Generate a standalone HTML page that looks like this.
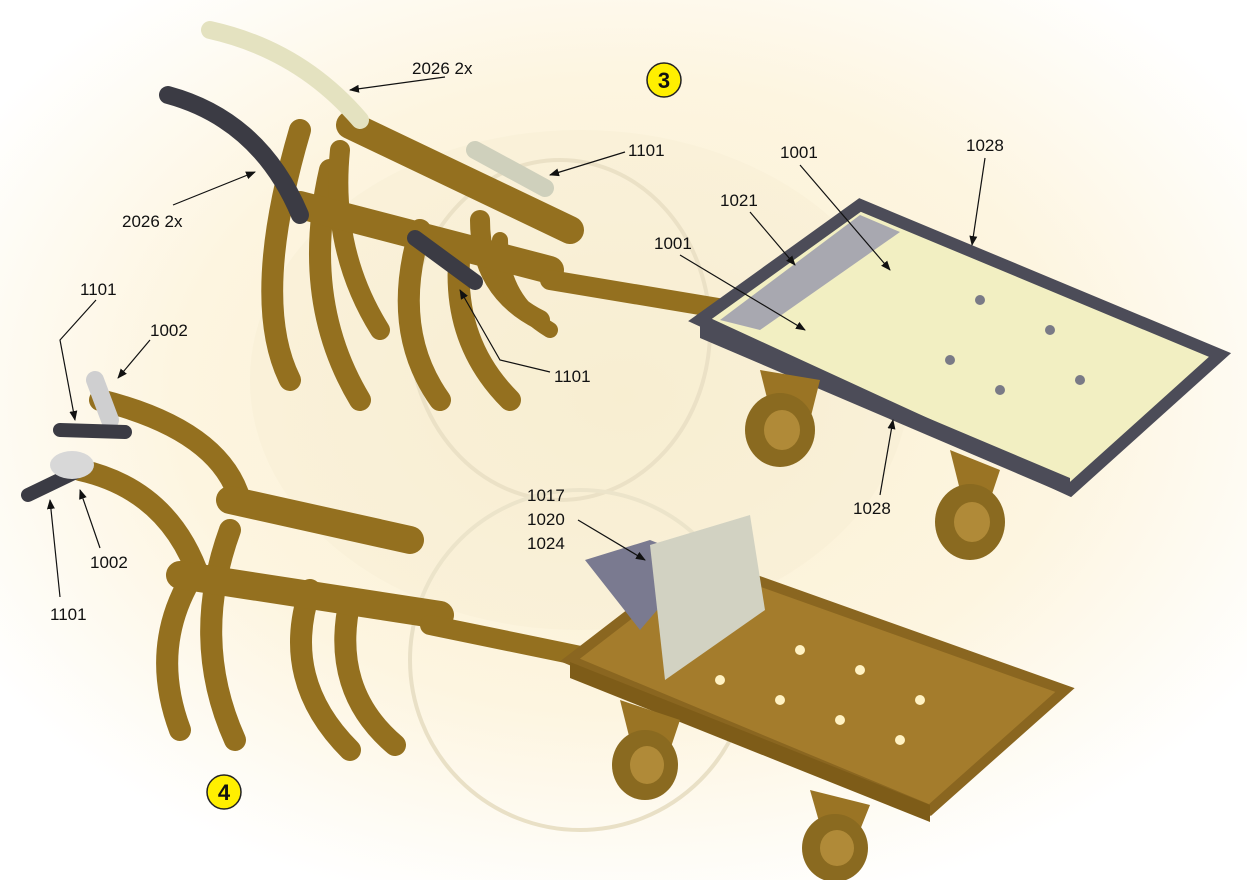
<!DOCTYPE html>
<html><head><meta charset="utf-8"><style>
html,body{margin:0;padding:0;background:#fff}
svg{display:block}
text{font-family:"Liberation Sans",Arial,sans-serif;font-size:17px;fill:#111}
</style></head><body>
<svg width="1247" height="880" viewBox="0 0 1247 880" xmlns="http://www.w3.org/2000/svg">
<defs>
<radialGradient id="bg" cx="0.5" cy="0.45" r="0.6">
<stop offset="0" stop-color="#fbf0d2"/><stop offset="0.6" stop-color="#fdf5e0"/><stop offset="1" stop-color="#ffffff"/>
</radialGradient>
<marker id="ar" markerWidth="10" markerHeight="8" refX="9" refY="4" orient="auto" markerUnits="userSpaceOnUse">
<path d="M0,0 L10,4 L0,8 z" fill="#111"/></marker>
</defs>
<rect width="1247" height="880" fill="url(#bg)"/>
<ellipse cx="560" cy="330" rx="150" ry="170" fill="none" stroke="#e6dcc0" stroke-width="4"/>
<ellipse cx="580" cy="660" rx="170" ry="170" fill="none" stroke="#e9e0c6" stroke-width="4"/>
<ellipse cx="580" cy="380" rx="330" ry="250" fill="#f3ead0" opacity="0.35"/>

<!-- UPPER RAKE (3) -->
<g fill="none" stroke="#94701f" stroke-linecap="round">
<path d="M300,130 Q250,300 290,380" stroke-width="22"/>
<path d="M330,170 Q300,300 360,400" stroke-width="22"/>
<path d="M420,230 Q390,330 440,400" stroke-width="22"/>
<path d="M460,250 Q450,340 510,400" stroke-width="22"/>
<path d="M340,150 Q330,250 380,330" stroke-width="20"/>
<path d="M480,220 Q480,290 540,320" stroke-width="20"/>
<path d="M500,240 Q500,300 550,330" stroke-width="16"/>
<path d="M350,125 L570,230" stroke-width="28"/>
<path d="M300,205 L550,270" stroke-width="28"/>
<path d="M550,280 L760,315" stroke-width="20"/>
</g>
<path d="M210,30 Q300,50 360,120" stroke="#e4e2c0" stroke-width="18" fill="none" stroke-linecap="round"/>
<path d="M168,95 Q260,120 300,215" stroke="#3b3b44" stroke-width="18" fill="none" stroke-linecap="round"/>
<path d="M475,150 L545,188" stroke="#cfd0bc" stroke-width="18" fill="none" stroke-linecap="round"/>
<path d="M415,238 L475,282" stroke="#3b3b44" stroke-width="16" fill="none" stroke-linecap="round"/>

<!-- upper tray -->
<polygon points="700,320 860,205 1220,355 1070,490" fill="#f2efc2" stroke="#4c4c58" stroke-width="12"/>
<polygon points="700,322 1070,478 1070,496 700,338" fill="#4c4c58"/>
<polygon points="720,320 860,215 900,232 760,330" fill="#a8a8b0"/>
<g fill="#7a7a86"><circle cx="980" cy="300" r="5"/><circle cx="1050" cy="330" r="5"/><circle cx="1000" cy="390" r="5"/><circle cx="1080" cy="380" r="5"/><circle cx="950" cy="360" r="5"/></g>
<path d="M760,370 L820,380 L810,420 L770,410 z" fill="#9a7424"/>
<ellipse cx="780" cy="430" rx="35" ry="37" fill="#8a6a20"/><ellipse cx="782" cy="430" rx="18" ry="20" fill="#b08a38"/>
<path d="M950,450 L1000,470 L990,500 L960,490 z" fill="#9a7424"/>
<ellipse cx="970" cy="522" rx="35" ry="38" fill="#8a6a20"/><ellipse cx="972" cy="522" rx="18" ry="20" fill="#b08a38"/>

<!-- LOWER RAKE (4) -->
<g fill="none" stroke="#94701f" stroke-linecap="round">
<path d="M100,400 Q220,430 240,500" stroke-width="22"/>
<path d="M80,470 Q170,490 200,580" stroke-width="22"/>
<path d="M190,580 Q150,650 180,730" stroke-width="22"/>
<path d="M230,530 Q190,640 235,740" stroke-width="22"/>
<path d="M310,590 Q280,680 350,750" stroke-width="22"/>
<path d="M350,600 Q330,690 395,745" stroke-width="22"/>
<path d="M230,500 L410,540" stroke-width="28"/>
<path d="M180,575 L440,615" stroke-width="28"/>
<path d="M430,625 L600,660" stroke-width="20"/>
</g>
<path d="M95,380 L110,420" stroke="#cfcfd0" stroke-width="18" stroke-linecap="round"/>
<path d="M60,430 L125,432" stroke="#3b3b44" stroke-width="14" stroke-linecap="round"/>
<path d="M28,495 L80,470" stroke="#3b3b44" stroke-width="14" stroke-linecap="round"/>
<ellipse cx="72" cy="465" rx="22" ry="14" fill="#d8d8d8"/>
<polygon points="570,660 700,560 1065,690 930,810" fill="#a47c2c" stroke="#8a6620" stroke-width="10"/>
<polygon points="570,662 930,805 930,822 570,678" fill="#7e5c18"/>
<polygon points="585,560 650,540 700,560 640,630" fill="#7a7a90"/>
<polygon points="650,545 750,515 765,610 665,680" fill="#d2d2c2"/>
<g fill="#fff2c4"><circle cx="720" cy="680" r="5"/><circle cx="780" cy="700" r="5"/><circle cx="840" cy="720" r="5"/><circle cx="800" cy="650" r="5"/><circle cx="860" cy="670" r="5"/><circle cx="920" cy="700" r="5"/><circle cx="900" cy="740" r="5"/></g>
<path d="M620,700 L680,720 L670,750 L630,740 z" fill="#9a7424"/>
<ellipse cx="645" cy="765" rx="33" ry="35" fill="#8a6a20"/><ellipse cx="647" cy="765" rx="17" ry="19" fill="#b08a38"/>
<path d="M810,790 L870,805 L860,830 L820,825 z" fill="#9a7424"/>
<ellipse cx="835" cy="848" rx="33" ry="34" fill="#8a6a20"/><ellipse cx="837" cy="848" rx="17" ry="18" fill="#b08a38"/>

<circle cx="664" cy="80" r="17" fill="#ffef00" stroke="#222" stroke-width="1.5"/>
<text x="664" y="88" text-anchor="middle" style="font-size:22px;font-weight:bold">3</text>
<circle cx="224" cy="792" r="17" fill="#ffef00" stroke="#222" stroke-width="1.5"/>
<text x="224" y="800" text-anchor="middle" style="font-size:22px;font-weight:bold">4</text>

<g stroke="#111" stroke-width="1.2" fill="none">
<line x1="445" y1="77" x2="350" y2="90" marker-end="url(#ar)"/>
<line x1="625" y1="152" x2="550" y2="175" marker-end="url(#ar)"/>
<line x1="173" y1="205" x2="255" y2="172" marker-end="url(#ar)"/>
<line x1="800" y1="165" x2="890" y2="270" marker-end="url(#ar)"/>
<line x1="985" y1="158" x2="972" y2="245" marker-end="url(#ar)"/>
<line x1="750" y1="212" x2="795" y2="265" marker-end="url(#ar)"/>
<line x1="680" y1="255" x2="805" y2="330" marker-end="url(#ar)"/>
<polyline points="96,300 60,340 75,420" marker-end="url(#ar)"/>
<line x1="150" y1="340" x2="118" y2="378" marker-end="url(#ar)"/>
<polyline points="550,372 500,360 460,290" marker-end="url(#ar)"/>
<line x1="880" y1="495" x2="893" y2="420" marker-end="url(#ar)"/>
<line x1="578" y1="520" x2="645" y2="560" marker-end="url(#ar)"/>
<line x1="100" y1="548" x2="80" y2="490" marker-end="url(#ar)"/>
<line x1="60" y1="597" x2="50" y2="500" marker-end="url(#ar)"/>
</g>
<text x="412" y="74">2026 2x</text>
<text x="628" y="156">1101</text>
<text x="780" y="158">1001</text>
<text x="966" y="151">1028</text>
<text x="720" y="206">1021</text>
<text x="122" y="227">2026 2x</text>
<text x="654" y="249">1001</text>
<text x="80" y="295">1101</text>
<text x="150" y="336">1002</text>
<text x="554" y="382">1101</text>
<text x="853" y="514">1028</text>
<text x="527" y="501">1017</text>
<text x="527" y="525">1020</text>
<text x="527" y="549">1024</text>
<text x="90" y="568">1002</text>
<text x="50" y="620">1101</text>
</svg>
</body></html>
